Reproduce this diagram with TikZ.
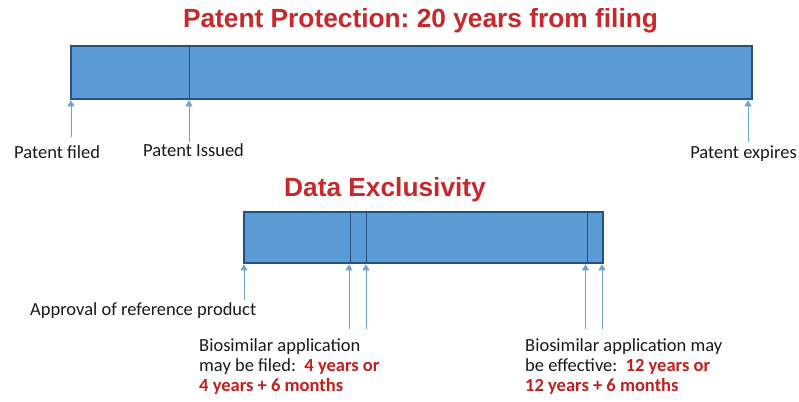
\documentclass[tikz,border=0pt]{standalone}
\usepackage{fontspec}
\setmainfont{Carlito}
\newfontfamily\titlefont{Liberation Sans}
\usetikzlibrary{arrows.meta}
\definecolor{barfill}{HTML}{5B9BD5}
\definecolor{barline}{HTML}{24517F}
\definecolor{arrowc}{HTML}{6EA3D8}
\definecolor{titlered}{HTML}{C8282C}
\definecolor{lblred}{HTML}{C41E1E}
\definecolor{txt}{HTML}{1A1A1A}
\frenchspacing
\begin{document}
\begin{tikzpicture}[x=1pt,y=-1pt,
  bar/.style={draw=barline, line width=2.6pt, fill=barfill, inner sep=0pt, outer sep=0pt, anchor=north west},
  divider/.style={draw=barline, line width=0.8pt},
  uparrow/.style={draw=arrowc, line width=0.9pt, shorten >=1.3pt, -{Triangle[length=6pt,width=7pt]}},
  heading/.style={font=\titlefont\bfseries\fontsize{26.3}{30}\selectfont, text=titlered, inner sep=0pt, anchor=base},
  lbl/.style={font=\fontsize{18.5}{20}\selectfont, text=txt, inner sep=0pt, anchor=base west},
  blk/.style={font=\fontsize{18.5}{20}\selectfont, text=txt, inner sep=0pt, align=left, anchor=base west}]
\useasboundingbox (0,0) rectangle (799,401);
% titles
\node[heading] (ptitle) at (420.5,28) {Patent Protection: 20 years from filing};
\node[heading] (dtitle) at (385,196) {Data Exclusivity};
% bars
\node[bar, minimum width=681pt, minimum height=53pt] (pbar) at (71,46) {};
\node[bar, minimum width=359pt, minimum height=51pt] (dbar) at (244,212) {};
% dividers
\draw[divider] (189,46) -- (189,99);
\draw[divider] (350.5,212) -- (350.5,263);
\draw[divider] (366,212) -- (366,263);
\draw[divider] (587.5,212) -- (587.5,263);
% arrow tails
\coordinate (tfiled) at (71,137);
\coordinate (tissued) at (189,142);
\coordinate (texpires) at (748,142);
\coordinate (tapproval) at (244,300);
\coordinate (tfileda) at (349,329);
\coordinate (tfiledb) at (366,329);
\coordinate (teffa) at (585.5,329);
\coordinate (teffb) at (602,329);
\draw[uparrow] (tfiled) -- (tfiled |- pbar.south);
\draw[uparrow] (tissued) -- (tissued |- pbar.south);
\draw[uparrow] (texpires) -- (texpires |- pbar.south);
\draw[uparrow] (tapproval) -- (tapproval |- dbar.south);
\draw[uparrow] (tfileda) -- (tfileda |- dbar.south);
\draw[uparrow] (tfiledb) -- (tfiledb |- dbar.south);
\draw[uparrow] (teffa) -- (teffa |- dbar.south);
\draw[uparrow] (teffb) -- (teffb |- dbar.south);
% labels
\node[lbl] (lfiled) at (14,158) {Patent filed};
\node[lbl] (lissued) at (143,156) {Patent Issued};
\node[lbl, anchor=base east] (lexpires) at (797,158) {Patent expires};
\node[lbl] (lapproval) at (30,315) {Approval of reference product};
\node[blk] (lbiofile) at (199,391) {Biosimilar application\\may be filed:\ \ \textcolor{lblred}{\bfseries 4 years or}\\\textcolor{lblred}{\bfseries 4 years + 6 months}};
\node[blk] (lbioeff) at (525,391) {Biosimilar application may\\be effective:\ \ \textcolor{lblred}{\bfseries 12 years or}\\\textcolor{lblred}{\bfseries 12 years + 6 months}};
\end{tikzpicture}
\end{document}
